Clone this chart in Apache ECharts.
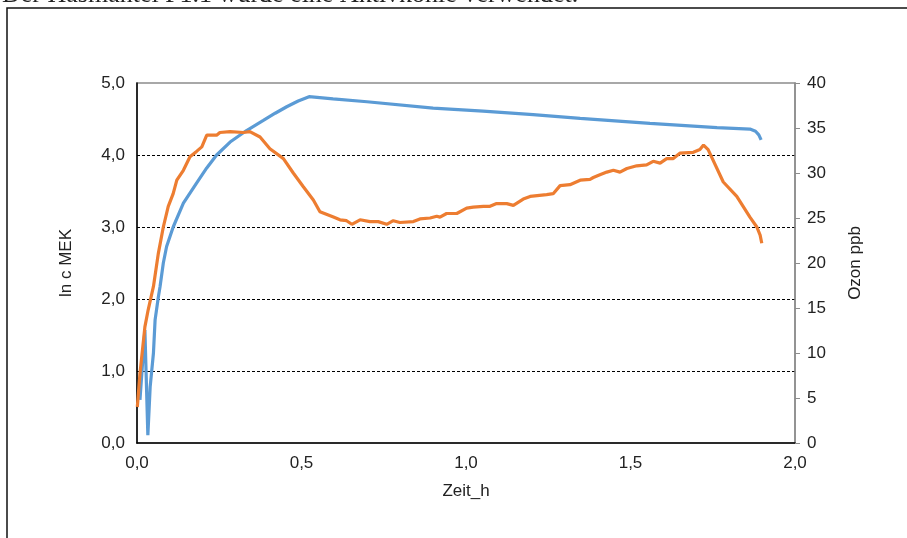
<!DOCTYPE html>
<html>
<head>
<meta charset="utf-8">
<script src="https://cdn.jsdelivr.net/npm/echarts@6/dist/echarts.min.js"></script>
<style>
html,body{margin:0;padding:0;background:#fff;}
#chart{width:907px;height:538px;}
</style>
</head>
<body>
<div id="chart"></div>
<script>
// ln c MEK (left axis) over time in hours
const mekTime = [0.009, 0.024, 0.033, 0.040, 0.050, 0.055, 0.065, 0.070, 0.080, 0.090, 0.110, 0.141, 0.181, 0.212, 0.242, 0.283, 0.333, 0.384, 0.420, 0.455, 0.490, 0.523, 0.596, 0.699, 0.900, 1.052, 1.204, 1.347, 1.559, 1.763, 1.863, 1.880, 1.890, 1.897];
const mekValues = [0.60, 1.57, 0.11, 0.78, 1.25, 1.71, 2.03, 2.17, 2.50, 2.73, 3.00, 3.33, 3.61, 3.82, 4.00, 4.18, 4.34, 4.48, 4.58, 4.67, 4.75, 4.81, 4.78, 4.74, 4.65, 4.61, 4.56, 4.51, 4.44, 4.38, 4.36, 4.33, 4.28, 4.21];

// Ozon ppb (right axis) over time in hours
const ozonTime = [0.001, 0.009, 0.024, 0.034, 0.050, 0.065, 0.080, 0.095, 0.110, 0.121, 0.141, 0.161, 0.181, 0.197, 0.212, 0.242, 0.252, 0.283, 0.323, 0.343, 0.374, 0.404, 0.445, 0.475, 0.505, 0.536, 0.556, 0.597, 0.617, 0.637, 0.653, 0.678, 0.708, 0.733, 0.759, 0.779, 0.799, 0.840, 0.860, 0.891, 0.911, 0.921, 0.941, 0.972, 1.002, 1.022, 1.053, 1.073, 1.093, 1.124, 1.144, 1.174, 1.195, 1.245, 1.265, 1.286, 1.316, 1.347, 1.377, 1.387, 1.407, 1.428, 1.448, 1.468, 1.489, 1.519, 1.549, 1.569, 1.590, 1.610, 1.630, 1.650, 1.691, 1.711, 1.722, 1.736, 1.782, 1.823, 1.863, 1.884, 1.894, 1.899];
const ozonValues = [4.0, 7.7, 12.9, 14.8, 17.4, 21.1, 24.0, 26.3, 27.7, 29.2, 30.3, 31.8, 32.4, 32.9, 34.2, 34.2, 34.5, 34.6, 34.5, 34.6, 34.0, 32.7, 31.6, 30.0, 28.5, 27.0, 25.7, 25.1, 24.8, 24.7, 24.3, 24.8, 24.6, 24.6, 24.3, 24.7, 24.5, 24.6, 24.9, 25.0, 25.2, 25.1, 25.5, 25.5, 26.1, 26.2, 26.3, 26.3, 26.6, 26.6, 26.4, 27.1, 27.4, 27.6, 27.7, 28.6, 28.7, 29.2, 29.3, 29.5, 29.8, 30.1, 30.3, 30.1, 30.5, 30.8, 30.9, 31.3, 31.1, 31.6, 31.6, 32.2, 32.3, 32.6, 33.1, 32.6, 29.0, 27.4, 25.1, 24.0, 23.1, 22.2];

const xName = 'Zeit_h';
const leftName = 'ln c MEK';
const rightName = 'Ozon ppb';
const topText = 'Der Hasmantel F1.1 wurde eine Aktivkohle verwendet.';

const fmt1 = v => v.toFixed(1).replace('.', ',');
const FONT = 'Liberation Sans, Arial, sans-serif';

const chart = echarts.init(document.getElementById('chart'), null, {renderer: 'canvas'});
chart.setOption({
  animation: false,
  backgroundColor: '#fff',
  graphic: [
    {type: 'rect', shape: {x: 7, y: 8, width: 1000, height: 600}, style: {fill: 'none', stroke: '#111', lineWidth: 1.5}, z: 0},
    {type: 'text', x: 2, y: 8, style: {text: topText, font: '26px Liberation Serif, serif', fill: '#222', textVerticalAlign: 'bottom'}}
  ],
  grid: {left: 137, right: 112, top: 83, bottom: 95, show: true, borderColor: '#8c8c8c', borderWidth: 1.5, backgroundColor: 'transparent'},
  xAxis: {
    type: 'value', min: 0, max: 2, interval: 0.5,
    name: xName, nameLocation: 'middle', nameGap: 40,
    nameTextStyle: {fontFamily: FONT, fontSize: 17, color: '#222'},
    axisLine: {show: true, lineStyle: {color: '#000', width: 1.5}},
    axisTick: {show: false},
    splitLine: {show: false},
    axisLabel: {formatter: fmt1, fontFamily: FONT, fontSize: 17, color: '#222', margin: 12}
  },
  yAxis: [
    {
      type: 'value', min: 0, max: 5, interval: 1, position: 'left',
      name: leftName, nameLocation: 'middle', nameGap: 62, nameRotate: 90,
      nameTextStyle: {fontFamily: FONT, fontSize: 17, color: '#222'},
      axisLine: {show: true, lineStyle: {color: '#000', width: 1.5}},
      axisTick: {show: false},
      splitLine: {show: true, lineStyle: {color: ['transparent', '#000', '#000', '#000', '#000', 'transparent'], type: [3, 2], width: 1}},
      axisLabel: {formatter: fmt1, fontFamily: FONT, fontSize: 17, color: '#222', margin: 12}
    },
    {
      type: 'value', min: 0, max: 40, interval: 5, position: 'right',
      name: rightName, nameLocation: 'middle', nameGap: 52, nameRotate: 90,
      nameTextStyle: {fontFamily: FONT, fontSize: 17, color: '#222'},
      axisLine: {show: true, lineStyle: {color: '#8c8c8c', width: 1.5}},
      axisTick: {show: true, length: 5, inside: false, lineStyle: {color: '#8c8c8c', width: 1}},
      splitLine: {show: false},
      axisLabel: {fontFamily: FONT, fontSize: 17, color: '#222', margin: 12}
    }
  ],
  series: [
    {
      name: leftName, type: 'line', yAxisIndex: 0, showSymbol: false, smooth: false,
      data: mekTime.map((t, i) => [t, mekValues[i]]),
      lineStyle: {color: '#5B9BD5', width: 3.2}, itemStyle: {color: '#5B9BD5'}, z: 3
    },
    {
      name: rightName, type: 'line', yAxisIndex: 1, showSymbol: false, smooth: false,
      data: ozonTime.map((t, i) => [t, ozonValues[i]]),
      lineStyle: {color: '#ED7D31', width: 3.2}, itemStyle: {color: '#ED7D31'}, z: 4
    }
  ]
});
</script>
</body>
</html>
